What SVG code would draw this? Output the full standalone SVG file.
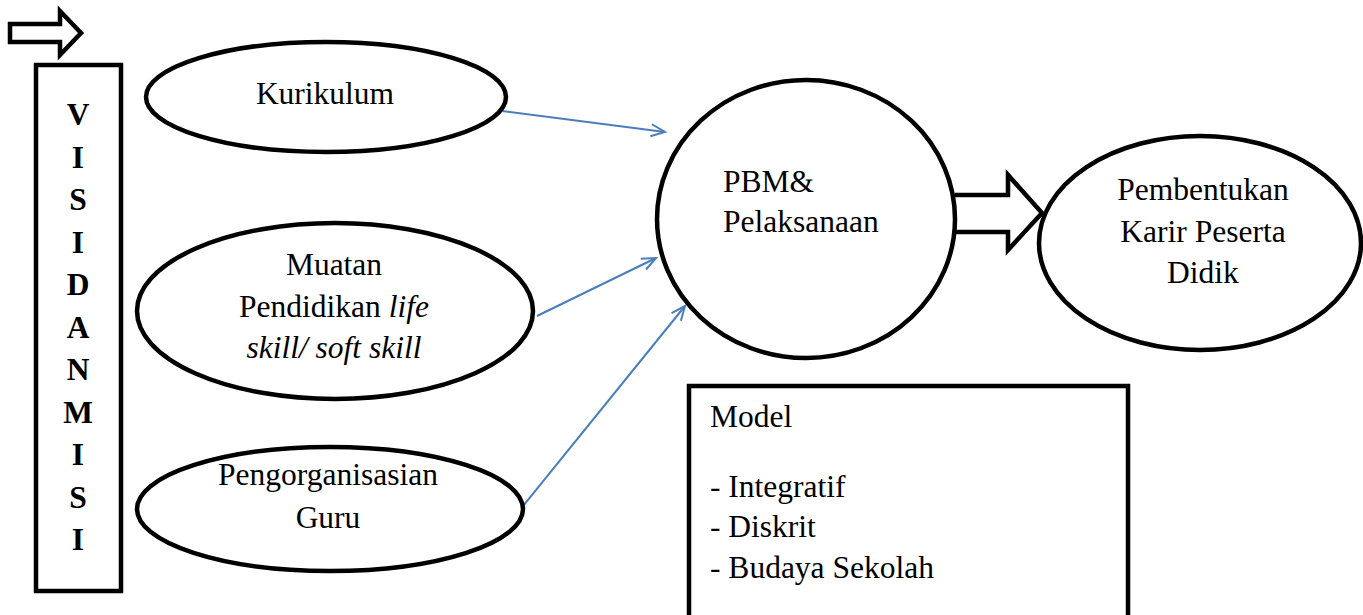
<svg xmlns="http://www.w3.org/2000/svg" width="1363" height="615" viewBox="0 0 1363 615">
<style>
.shape{fill:#fff;stroke:#000;stroke-width:4.5}
text{font-family:'Liberation Serif','Times New Roman','DejaVu Serif',serif;font-size:31.5px;fill:#000}
.c{text-anchor:middle}
.b{font-weight:bold;text-anchor:middle}
.i{font-style:italic}
.conn{stroke:#4a7ebb;stroke-width:2;fill:none}
</style>
<defs>
<marker id="open" markerUnits="userSpaceOnUse" markerWidth="18" markerHeight="16" refX="15" refY="7" orient="auto" viewBox="0 0 18 14">
<path d="M1,1 L15,7 L1,13" fill="none" stroke="#4a7ebb" stroke-width="2"/>
</marker>
</defs>
<rect width="1363" height="615" fill="#fff"/>
<g id="top-arrow">
<path class="shape" d="M10,24 H60 V11 L81,33 L60,55 V42 H10 Z" stroke-width="4"/>
</g>
<g id="visi-misi" font-family="Liberation Serif, serif">
<rect class="shape" x="36" y="65" width="85" height="526" stroke-width="5"/>
<text class="b" x="78" y="125">V</text>
<text class="b" x="78" y="167.5">I</text>
<text class="b" x="78" y="210">S</text>
<text class="b" x="78" y="252.5">I</text>
<text class="b" x="78" y="295">D</text>
<text class="b" x="78" y="337.5">A</text>
<text class="b" x="78" y="380">N</text>
<text class="b" x="78" y="422.5">M</text>
<text class="b" x="78" y="465">I</text>
<text class="b" x="78" y="507.5">S</text>
<text class="b" x="78" y="550">I</text>
</g>
<g id="connectors">
<line class="conn" x1="494" y1="110" x2="665" y2="132" marker-end="url(#open)"/>
<line class="conn" x1="537" y1="316" x2="656" y2="258" marker-end="url(#open)"/>
<line class="conn" x1="519" y1="511" x2="685" y2="306" marker-end="url(#open)"/>
<path class="shape" d="M955,195 H1008 V175 L1042,213 L1008,250 V232 H955" stroke-width="4"/>
</g>
<g id="kurikulum">
<ellipse class="shape" cx="326" cy="97" rx="180" ry="55"/>
<text class="c" x="325" y="104">Kurikulum</text>
</g>
<g id="muatan">
<ellipse class="shape" cx="335" cy="311" rx="198" ry="88"/>
<text class="c" x="334" y="275">Muatan</text>
<text class="c" x="334" y="317">Pendidikan <tspan class="i">life</tspan></text>
<text class="c i" x="334" y="358">skill/ soft skill</text>
</g>
<g id="pengorganisasian">
<ellipse class="shape" cx="330" cy="509" rx="193" ry="62"/>
<text class="c" x="328" y="485">Pengorganisasian</text>
<text class="c" x="328" y="528">Guru</text>
</g>
<g id="pbm">
<ellipse class="shape" cx="806" cy="219" rx="149" ry="139"/>
<text x="723" y="192">PBM&amp;</text>
<text x="723" y="232">Pelaksanaan</text>
</g>
<g id="pembentukan">
<ellipse class="shape" cx="1200" cy="243" rx="161" ry="107"/>
<text class="c" x="1203" y="200">Pembentukan</text>
<text class="c" x="1203" y="242">Karir Peserta</text>
<text class="c" x="1203" y="283">Didik</text>
</g>
<g id="model">
<rect class="shape" x="689" y="386" width="439" height="260" stroke-width="5"/>
<text x="710" y="427">Model</text>
<text x="710" y="497">- Integratif</text>
<text x="710" y="537">- Diskrit</text>
<text x="710" y="578">- Budaya Sekolah</text>
</g>
</svg>
